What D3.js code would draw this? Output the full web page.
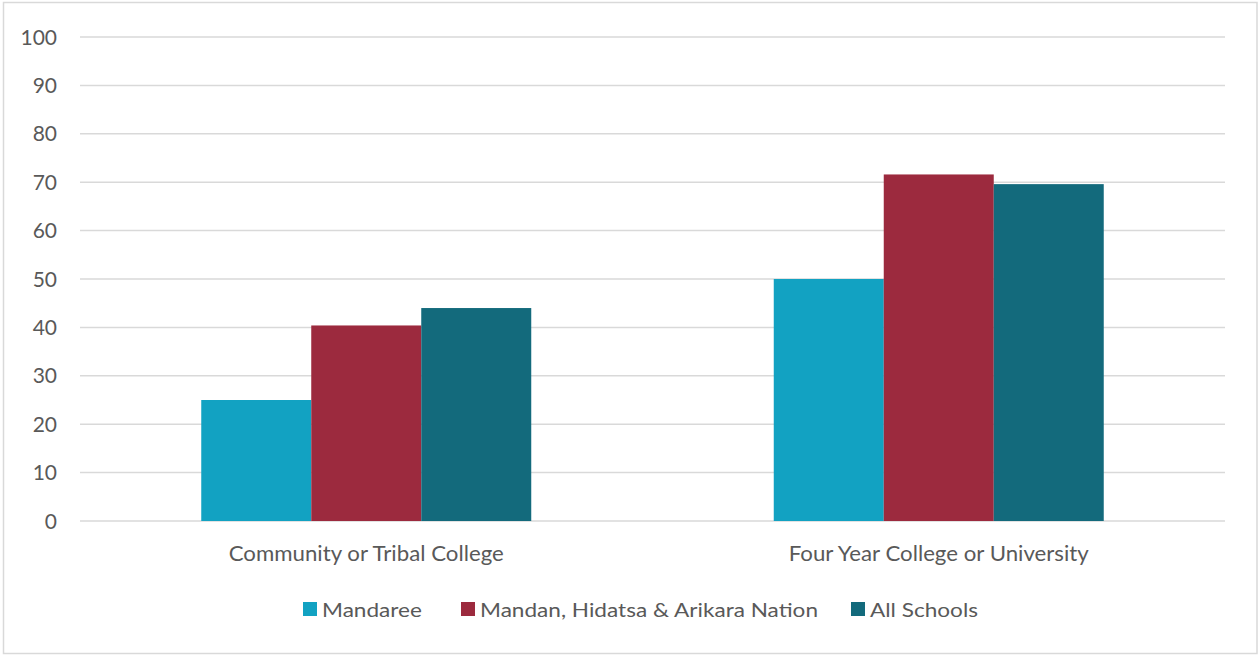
<!DOCTYPE html>
<meta charset="utf-8">
<style>
  body { margin: 0; background: #fff; }
  text { font-family: Lato, "Open Sans", sans-serif; fill: #595959; }
</style>
<body>
<script src="https://d3js.org/d3.v7.min.js"></script>
<script>
// data
var categories = ["Community or Tribal College", "Four Year College or University"];
var seriesNames = ["Mandaree", "Mandan, Hidatsa & Arikara Nation", "All Schools"];
var mandaree = [25, 50];
var mha = [40.4, 71.6];
var allSchools = [44, 69.6];
var yTicks = [0, 10, 20, 30, 40, 50, 60, 70, 80, 90, 100];
var colors = ["#12a2c2", "#9c2a3e", "#136a7c"];

var W = 1260, H = 655;
var svg = d3.select("body").append("svg")
    .attr("width", W)
    .attr("height", H);

// outer frame
svg.append("rect")
    .attr("x", 3.5).attr("y", 2.5)
    .attr("width", W - 6.5).attr("height", H - 4)
    .attr("fill", "#fff")
    .attr("stroke", "#d9d9d9")
    .attr("stroke-width", 1.5);

var margin = {top: 37, right: 35, bottom: 134, left: 80},
    width = W - margin.left - margin.right,
    height = H - margin.top - margin.bottom,
    g = svg.append("g").attr("transform", "translate(" + margin.left + "," + margin.top + ")");

var x0 = d3.scaleBand().domain(categories).range([0, width])
    .paddingInner(0.4236).paddingOuter(0.2118);
var x1 = d3.scaleBand().domain(seriesNames).range([0, x0.bandwidth()]);
var y = d3.scaleLinear().domain([0, 100]).range([height, 0]);

// gridlines
g.selectAll(".grid").data(yTicks).enter().append("line")
    .attr("x1", 0).attr("x2", width)
    .attr("y1", function(d) { return y(d); })
    .attr("y2", function(d) { return y(d); })
    .attr("stroke", "#d9d9d9")
    .attr("stroke-width", 1.5);

// y labels
g.selectAll(".ylab").data(yTicks).enter().append("text")
    .attr("x", -23)
    .attr("y", function(d) { return y(d); })
    .attr("dy", "0.36em")
    .attr("text-anchor", "end")
    .style("font-size", "21px")
    .text(function(d) { return d; });

var rows = categories.map(function(c, i) {
    return [mandaree[i], mha[i], allSchools[i]].map(function(v, j) {
        return {cat: c, key: seriesNames[j], value: v, color: colors[j]};
    });
});

g.selectAll(".grp").data(rows).enter().append("g")
    .attr("transform", function(d, i) { return "translate(" + x0(categories[i]) + ",0)"; })
  .selectAll("rect").data(function(d) { return d; }).enter().append("rect")
    .attr("x", function(d) { return x1(d.key); })
    .attr("width", x1.bandwidth())
    .attr("y", function(d) { return y(d.value); })
    .attr("height", function(d) { return height - y(d.value); })
    .attr("fill", function(d) { return d.color; });

// category labels (slightly stretched, like the original)
g.selectAll(".xlab").data(categories).enter().append("text")
    .attr("transform", function(d) {
        return "translate(" + (x0(d) + x0.bandwidth() / 2) + "," + (height + 40) + ") scale(1.06,1)";
    })
    .attr("text-anchor", "middle")
    .style("font-size", "21px")
    .text(function(d) { return d; });

// legend
var legendX = [303, 461, 851];
var lg = svg.selectAll(".leg").data(seriesNames).enter().append("g")
    .attr("transform", function(d, i) { return "translate(" + legendX[i] + ",602)"; });
lg.append("rect").attr("width", 14).attr("height", 14)
    .attr("fill", function(d, i) { return colors[i]; });
lg.append("text")
    .attr("transform", "translate(19,15) scale(1.13,1)")
    .style("font-size", "20px")
    .text(function(d) { return d; });
</script>
</body>
